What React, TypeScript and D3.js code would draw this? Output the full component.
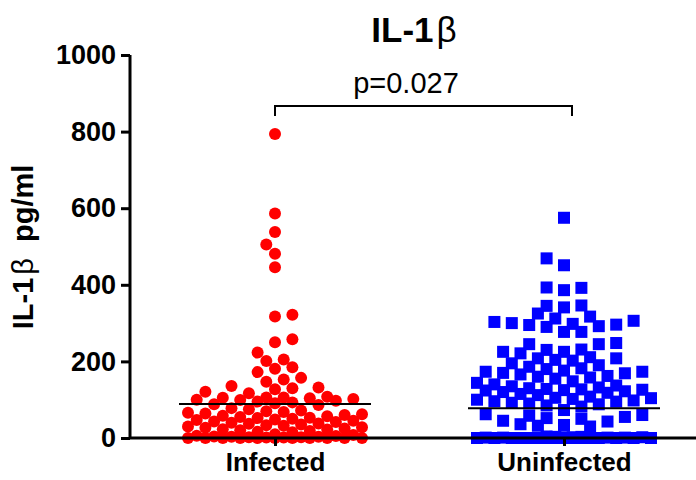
import * as d3 from 'd3';
import { useEffect, useRef } from 'react';

// groups
const groups = ['Infected', 'Uninfected'];

// IL-1b values (pg/ml)
const infected = [
  794, 586, 538, 505, 481, 446, 322, 317, 258, 250, 223, 205, 201, 185, 181, 172,
  157, 153, 147, 136, 132, 130, 127, 121, 117,
  108, 106, 106, 105, 104, 102, 100, 99, 97, 95, 93, 91, 88, 86,
  78, 75, 72, 70, 68, 66, 64, 62, 60, 58, 57, 55, 53, 52, 50, 48, 47, 45, 43, 42,
  40, 38, 37, 35, 33, 32, 30, 28, 27, 25, 23, 22, 20, 18, 16, 15,
  10, 8, 6, 5, 4, 3, 3, 2, 2, 1, 1, 0, 0, 0, 0, 0, 0, 0, 0, 0, 0, 0,
];

const uninfected = [
  575, 469, 451, 393, 392, 386, 346, 345, 341, 325, 317, 312, 306, 303, 300, 298,
  292, 296, 295, 290, 277, 277, 248, 245, 245,
  231, 230, 225, 225, 221, 211, 208, 208, 204, 202,
  195, 190, 186, 182, 180, 176, 173, 173, 170, 169, 166, 162, 160, 158, 155,
  148, 144, 140, 137, 135, 132, 130, 128, 127, 126, 125, 124, 122, 120, 118, 115, 112,
  108, 105, 104, 102, 100, 98, 96, 95, 92, 90, 88, 85, 82,
  73, 62, 60, 58, 55, 52, 50, 45, 43, 36, 34, 32, 30,
  4, 3, 3, 2, 2, 2, 1, 1, 1, 1, 0, 0, 0, 0, 0, 0, 0, 0, 0, 0, 0, 0, 0, 0, 0, 0,
];

// centre lines
const centreLines = [89, 78];
const yTicks = [0, 200, 400, 600, 800, 1000];
const pLabel = 'p=0.027';

const font = '"Liberation Sans", Arial, sans-serif';

// simple beeswarm: slots on a grid, lowest values first, closest-to-centre free slot
function swarm(values: number[], cx: number, y: (v: number) => number) {
  const step = 8.7;
  const maxK = 10;
  const minDist = 11.5;
  const placed: { x: number; y: number }[] = [];
  [...values].sort((a, b) => a - b).forEach(v => {
    const py = y(v);
    const flip = placed.length % 2 === 1;
    const order = [0];
    for (let k = 1; k <= maxK; k++) order.push(flip ? -k : k, flip ? k : -k);
    let best = cx;
    let bestD = -1;
    for (const k of order) {
      const px = cx + k * step;
      let d = Infinity;
      for (const p of placed) d = Math.min(d, Math.hypot(p.x - px, p.y - py));
      if (d >= minDist) { best = px; bestD = d; break; }
      if (d > bestD + 0.01) { bestD = d; best = px; }
    }
    placed.push({ x: best, y: py });
  });
  return placed;
}

function App() {
  const svgRef = useRef<SVGSVGElement>(null);

  useEffect(() => {
    const width = 696;
    const height = 480;
    const svg = d3.select(svgRef.current);
    svg.selectAll('*').remove();

    const y = d3.scaleLinear().domain([0, 1000]).range([438, 55]);
    const x = d3.scalePoint<string>().domain(groups).range([275, 564]);
    const axisX = 130;

    // points
    const red = swarm(infected, x('Infected')!, y);
    svg.append('g').selectAll('circle').data(red).join('circle')
      .attr('cx', d => d.x).attr('cy', d => d.y).attr('r', 6)
      .attr('fill', '#ff0000');

    const blue = swarm(uninfected, x('Uninfected')!, y);
    svg.append('g').selectAll('rect').data(blue).join('rect')
      .attr('x', d => d.x - 6).attr('y', d => d.y - 6)
      .attr('width', 12).attr('height', 12)
      .attr('fill', '#0000ff');

    // centre lines
    svg.append('g').selectAll('line').data(groups).join('line')
      .attr('x1', d => x(d)! - 96).attr('x2', d => x(d)! + 96)
      .attr('y1', (d, i) => y(centreLines[i])).attr('y2', (d, i) => y(centreLines[i]))
      .attr('stroke', '#000').attr('stroke-width', 2);

    // y axis
    const gy = svg.append('g').attr('transform', `translate(${axisX},0)`)
      .call(d3.axisLeft(y).tickValues(yTicks).tickSize(9).tickPadding(5).tickFormat(d3.format('d')));
    gy.select('.domain').attr('d', `M0,${y(1000)}V${y(0)}`).attr('stroke-width', 3);
    gy.selectAll('.tick line').attr('stroke-width', 3);
    gy.selectAll('.tick text')
      .attr('font-family', font).attr('font-size', 27).attr('font-weight', 'bold')
      .attr('fill', '#000');

    // x axis
    const gx = svg.append('g').attr('transform', `translate(0,${y(0)})`)
      .call(d3.axisBottom(x).tickSize(8).tickPadding(6));
    gx.select('.domain').attr('d', `M${axisX},0H${width}`).attr('stroke-width', 3);
    gx.selectAll('.tick line').attr('stroke-width', 3);
    gx.selectAll('.tick text')
      .attr('font-family', font).attr('font-size', 26).attr('font-weight', 'bold')
      .attr('fill', '#000').attr('dy', null).attr('y', 33);

    // significance bracket
    const bx1 = x('Infected')!;
    const bx2 = x('Uninfected')! + 8;
    svg.append('path')
      .attr('d', `M${bx1},116V106H${bx2}V116`)
      .attr('fill', 'none').attr('stroke', '#000').attr('stroke-width', 2);
    svg.append('text')
      .attr('x', 406).attr('y', 93).attr('text-anchor', 'middle')
      .attr('font-family', font).attr('font-size', 29)
      .text(pLabel);

    // title
    const title = svg.append('text')
      .attr('x', 414).attr('y', 42).attr('text-anchor', 'middle')
      .attr('font-family', font).attr('font-size', 35).attr('font-weight', 'bold');
    title.append('tspan').text('IL-1');
    title.append('tspan').attr('font-weight', 'normal').attr('dx', 3).text('β');

    // y label
    const yl = svg.append('text')
      .attr('transform', `translate(33,247) rotate(-90)`).attr('text-anchor', 'middle')
      .attr('font-family', font).attr('font-size', 29).attr('font-weight', 'bold');
    yl.append('tspan').text('IL-1');
    yl.append('tspan').attr('font-weight', 'normal').attr('dx', 3).text('β');
    yl.append('tspan').attr('dx', 16).text('pg/ml');

    svg.attr('width', width).attr('height', height);
  }, []);

  return (
    <svg
      ref={svgRef}
      width={696}
      height={480}
      style={{ position: 'absolute', left: 0, top: 0, display: 'block', background: '#fff' }}
    />
  );
}

export default App;
